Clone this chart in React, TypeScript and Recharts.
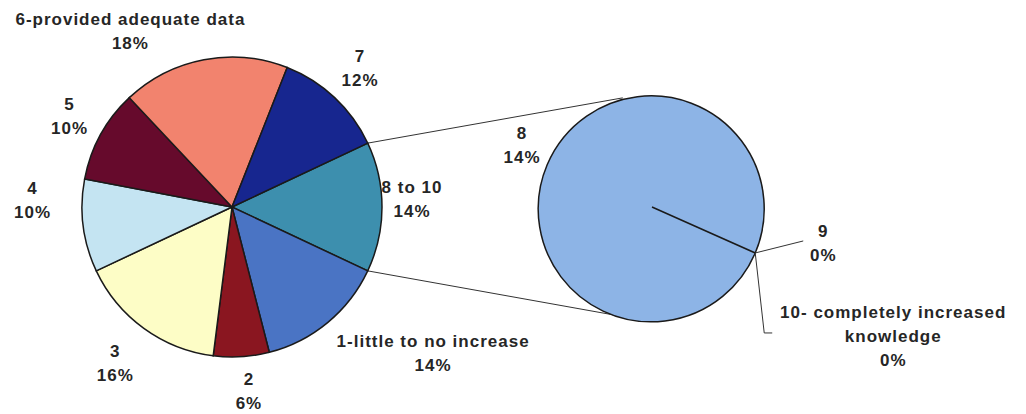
import React from 'react';
import { PieChart, Pie, Cell, Customized } from 'recharts';

// main pie, clockwise from the exploded slice
const mainNames = [
  '8 to 10',
  '1-little to no increase',
  '2',
  '3',
  '4',
  '5',
  '6-provided adequate data',
  '7',
];
const mainValues = [14, 14, 6, 16, 10, 10, 18, 12];

// breakdown of "8 to 10"
const subNames = ['8', '9', '10- completely increased knowledge'];
const subValues = [14, 0, 0];

const mainData = mainNames.map((name, i) => ({ name, value: mainValues[i] }));
const subData = subNames.map((name, i) => ({ name, value: subValues[i] }));

const mainColors = [
  '#3d8fae',
  '#4a74c4',
  '#8a1620',
  '#fdfdc6',
  '#c4e4f2',
  '#660a2c',
  '#f2836e',
  '#17268f',
];
const subColor = '#8db4e6';

const W = 1026;
const H = 414;
const MAIN = { cx: 232, cy: 207, r: 150 };
const SUB = { cx: 652, cy: 207, r: 113 };
const SUB_START = -24;

const total = mainValues.reduce((a, b) => a + b, 0);
const mainStart = (mainValues[0] / total) * 180;

const RAD = Math.PI / 180;
const polar = (cx: number, cy: number, r: number, a: number) => ({
  x: cx + r * Math.cos(-a * RAD),
  y: cy + r * Math.sin(-a * RAD),
});

const textStyle = {
  fontFamily: '"Liberation Sans", Arial, sans-serif',
  fontWeight: 700,
  fontSize: 17,
  letterSpacing: 1,
  fill: '#262626',
};
const LH = 24;

// manual nudges where the original labels were moved by hand
const mainNudge: Record<string, [number, number]> = {
  '8 to 10': [-10, -8],
  '1-little to no increase': [80, 0],
  '2': [5, -6],
  '3': [-5, 2],
  '4': [-11, -31],
  '5': [4, 1],
  '6-provided adequate data': [-66, 11],
  '7': [-2, 0],
};

const Lines = ({ x, y, lines }: { x: number; y: number; lines: string[] }) => {
  const top = y - ((lines.length - 1) * LH) / 2 + 6;
  return (
    <text x={x} y={top} textAnchor='middle' style={textStyle}>
      {lines.map((l, i) => (
        <tspan key={i} x={x} dy={i === 0 ? 0 : LH}>
          {l}
        </tspan>
      ))}
    </text>
  );
};

const mainLabel = (p: any) => {
  const pos = polar(p.cx, p.cy, 190, p.midAngle);
  const [dx, dy] = mainNudge[p.name] || [0, 0];
  return (
    <Lines
      key={p.name}
      x={pos.x + dx}
      y={pos.y + dy}
      lines={[p.name, `${p.value}%`]}
    />
  );
};

const subLabel = (p: any) => {
  const edge = polar(p.cx, p.cy, p.outerRadius, p.midAngle);
  if (p.index === 0) {
    const pos = polar(p.cx, p.cy, 140, p.midAngle);
    return <Lines key='s0' x={pos.x - 2} y={pos.y - 5} lines={[p.name, `${p.value}%`]} />;
  }
  if (p.index === 1) {
    return (
      <g key='s1'>
        <polyline
          points={`${edge.x},${edge.y} ${edge.x + 48},${edge.y - 12}`}
          fill='none'
          stroke='#333'
          strokeWidth={1}
        />
        <Lines x={edge.x + 68} y={edge.y - 10} lines={[p.name, `${p.value}%`]} />
      </g>
    );
  }
  return (
    <g key='s2'>
      <polyline
        points={`${edge.x},${edge.y} ${edge.x + 9},${edge.y + 80} ${edge.x + 17},${edge.y + 80}`}
        fill='none'
        stroke='#333'
        strokeWidth={1}
      />
      <Lines
        x={edge.x + 138}
        y={edge.y + 83}
        lines={['10- completely increased', 'knowledge', `${p.value}%`]}
      />
    </g>
  );
};

// connector lines from the exploded slice to the second pie
const Connectors = () => {
  const a = polar(MAIN.cx, MAIN.cy, MAIN.r, mainStart);
  const b = polar(MAIN.cx, MAIN.cy, MAIN.r, -mainStart);
  const c = polar(SUB.cx, SUB.cy, SUB.r, 105);
  const d = polar(SUB.cx, SUB.cy, SUB.r, -100);
  return (
    <g stroke='#333' strokeWidth={1}>
      <line x1={a.x} y1={a.y} x2={c.x} y2={c.y} />
      <line x1={b.x} y1={b.y} x2={d.x} y2={d.y} />
    </g>
  );
};

export default function App() {
  return (
    <div style={{ position: 'absolute', left: 0, top: 0, width: W, height: H, background: '#fff' }}>
      <PieChart width={W} height={H} margin={{ top: 0, right: 0, bottom: 0, left: 0 }}>
        <Customized component={<Connectors />} />
        <Pie
          data={mainData}
          dataKey='value'
          nameKey='name'
          cx={MAIN.cx}
          cy={MAIN.cy}
          outerRadius={MAIN.r}
          startAngle={mainStart}
          endAngle={mainStart - 360}
          stroke='#1a1a1a'
          strokeWidth={1.5}
          label={mainLabel}
          labelLine={false}
          isAnimationActive={false}
        >
          {mainData.map((d, i) => (
            <Cell key={d.name} fill={mainColors[i]} />
          ))}
        </Pie>
        <Pie
          data={subData}
          dataKey='value'
          nameKey='name'
          cx={SUB.cx}
          cy={SUB.cy}
          outerRadius={SUB.r}
          startAngle={SUB_START}
          endAngle={SUB_START + 360}
          stroke='#1a1a1a'
          strokeWidth={1.5}
          fill={subColor}
          label={subLabel}
          labelLine={false}
          isAnimationActive={false}
        >
          {subData.map((d) => (
            <Cell key={d.name} fill={subColor} />
          ))}
        </Pie>
      </PieChart>
    </div>
  );
}
